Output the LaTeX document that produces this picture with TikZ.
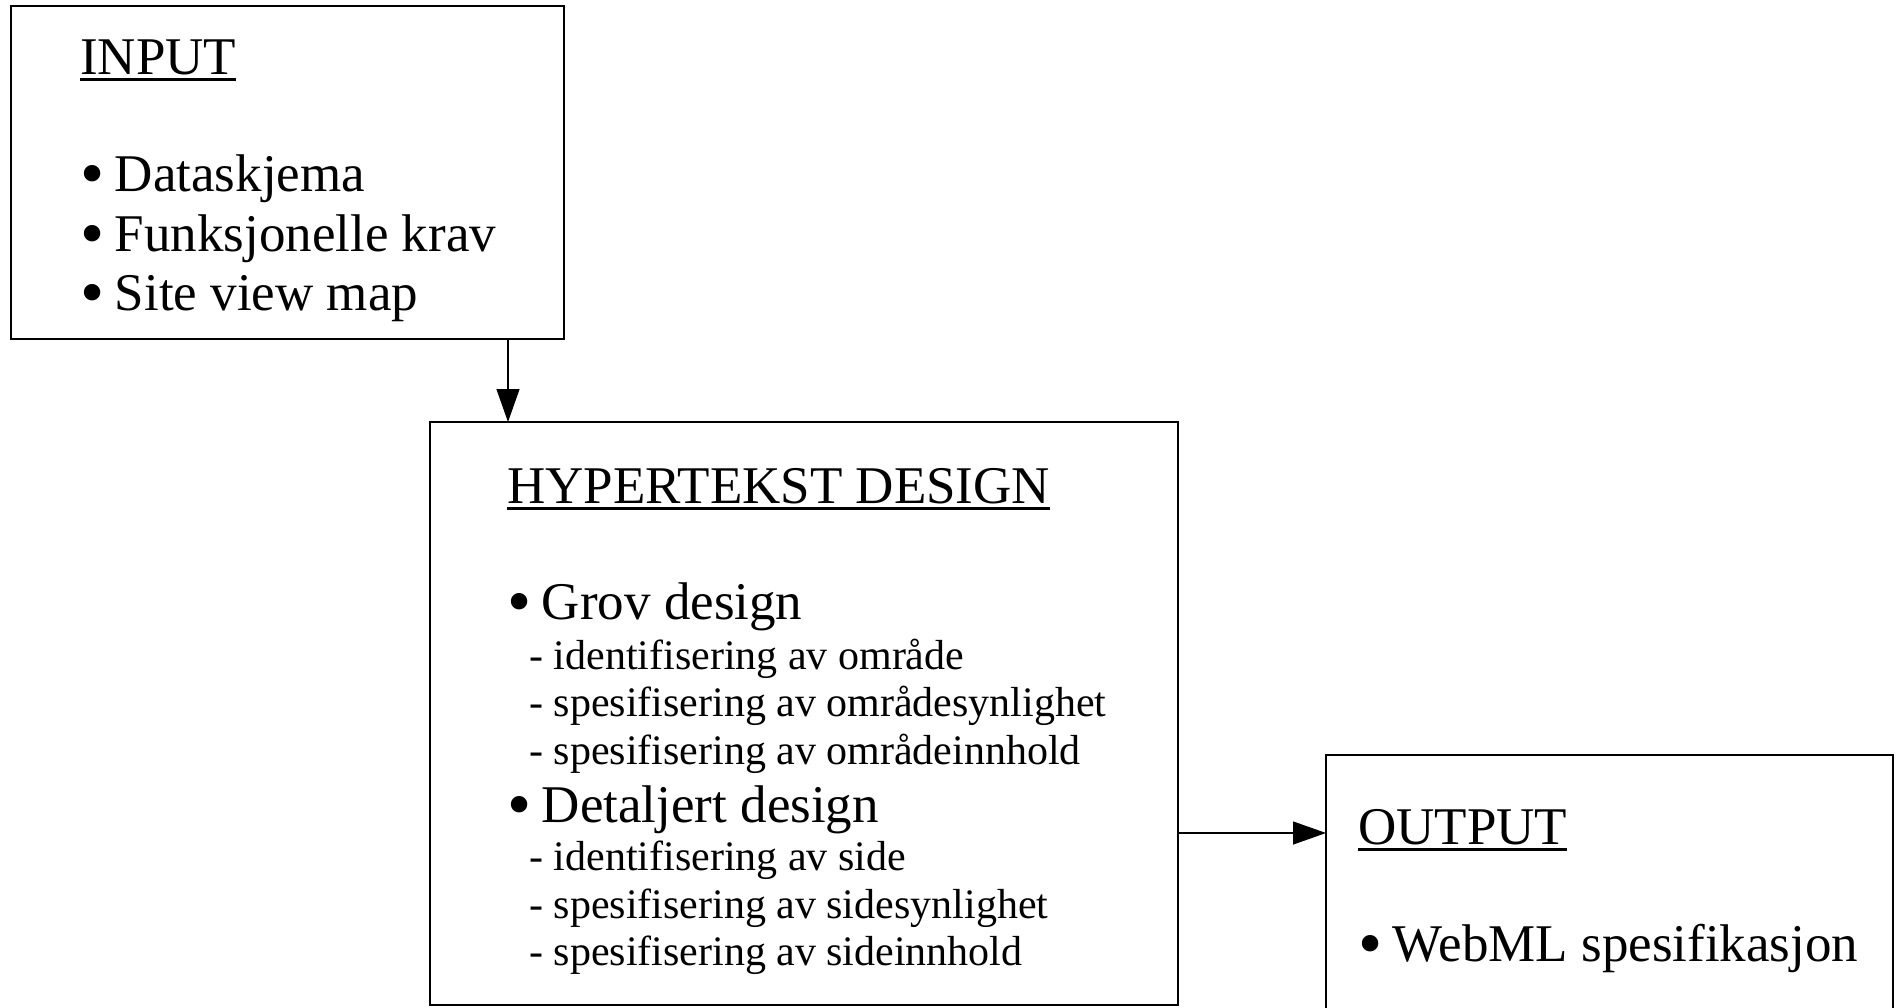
\documentclass[tikz,border=0pt]{standalone}
\usepackage{fontspec}
\usepackage{graphicx}
\setmainfont{Liberation Serif}
\usetikzlibrary{arrows.meta}
\newcommand\mybul{\raisebox{-0.1em}{\scalebox{1.3}{•}}\hspace{0.2em}}
\newcommand\myul[1]{\setbox0\hbox{#1}\rlap{\rule[-7pt]{\wd0}{2.6pt}}\box0}
\begin{document}
\begin{tikzpicture}[x=1pt,y=-1pt,
  box/.style={draw=black, line width=1.2pt, inner sep=0pt, outer sep=0pt},
  big/.style={anchor=base west, inner sep=0pt, font=\fontsize{53}{60}\selectfont},
  small/.style={anchor=base west, inner sep=0pt, font=\fontsize{42}{48}\selectfont},
  arr/.style={line width=1.2pt, -{Triangle[length=33pt,width=23pt]}}]
\useasboundingbox (0,0) rectangle (1901,1007);
\clip (0,0) rectangle (1901,1007);
\fill[white] (0,0) rectangle (1901,1007);
% boxes
\node[box, minimum width=553pt, minimum height=333pt] (inbox) at (287.5,172.5) {};
\node[box, minimum width=748pt, minimum height=583pt] (hybox) at (804,713.5) {};
\node[box, minimum width=567pt, minimum height=300pt] (outbox) at (1609.5,905) {};
% input texts
\node[big] (inh) at (80,74) {\myul{INPUT}};
\node[big] (in1) at (80,191) {\mybul Dataskjema};
\node[big] (in2) at (80,251) {\mybul Funksjonelle krav};
\node[big] (in3) at (80,310) {\mybul Site view map};
% hypertext texts
\node[big] (hyh) at (507,503) {\myul{HYPERTEKST DESIGN}};
\node[big] (g0) at (507,619) {\mybul Grov design};
\node[small] (g1) at (529,669) {- identifisering av område};
\node[small] (g2) at (529,716) {- spesifisering av områdesynlighet};
\node[small] (g3) at (529,764) {- spesifisering av områdeinnhold};
\node[big] (d0) at (507,822) {\mybul Detaljert design};
\node[small] (d1) at (529,870) {- identifisering av side};
\node[small] (d2) at (529,918) {- spesifisering av sidesynlighet};
\node[small] (d3) at (529,965) {- spesifisering av sideinnhold};
% output texts
\node[big] (outh) at (1358,844) {\myul{OUTPUT}};
\node[big] (out1) at (1358,961) {\mybul WebML spesifikasjon};
% connectors
\coordinate (a1) at (508,0);
\coordinate (a2) at (0,833);
\draw[arr] (a1 |- inbox.south) -- (a1 |- hybox.north);
\draw[arr] (a2 -| hybox.east) -- (a2 -| outbox.west);
\end{tikzpicture}
\end{document}
